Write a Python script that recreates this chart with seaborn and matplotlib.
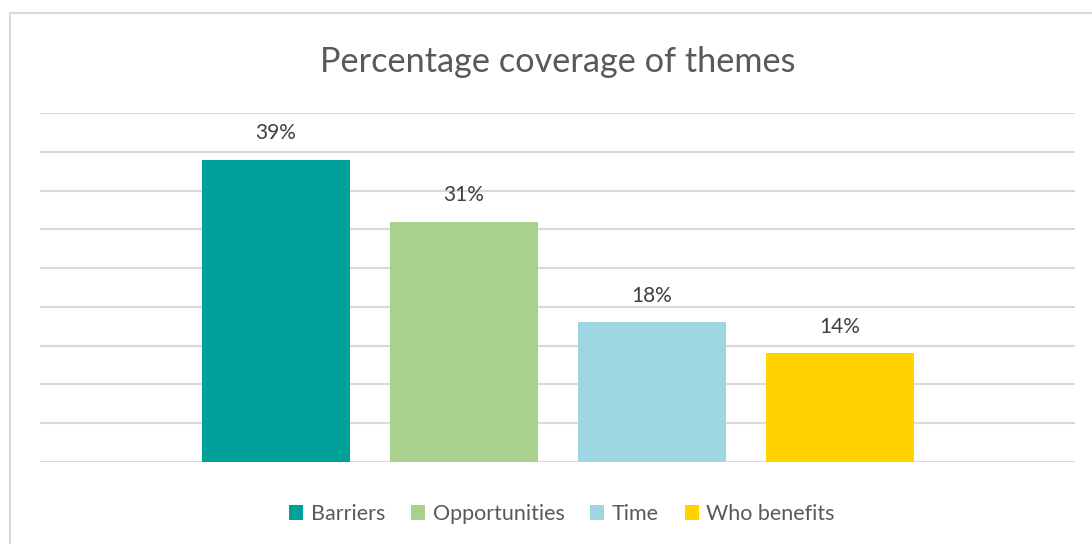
import matplotlib
matplotlib.use("Agg")
import matplotlib.pyplot as plt
from matplotlib.patches import Rectangle, Patch
import seaborn as sns
import pandas as pd

# Theme coverage shares (percent)
themes = ["Barriers", "Opportunities", "Time", "Who benefits"]
coverage = [39, 31, 18, 14]
colors = ["#00A19A", "#A9D18E", "#9DD5E0", "#FFD200"]
value_labels = ["39%", "31%", "18%", "14%"]
title = "Percentage coverage of themes"

sns.set_theme(style="white")
plt.rcParams["font.family"] = ["Lato", "DejaVu Sans"]

W, H = 1092, 544
fig = plt.figure(figsize=(W / 100, H / 100), dpi=100)

# Chart-area frame
fig.patches.append(Rectangle((10 / W, -0.1), 1.2, 1 - 13 / H + 0.1,
                             transform=fig.transFigure, fill=False,
                             edgecolor="#D9D9D9", linewidth=1.5))

ax = fig.add_axes([40 / W, (H - 462) / H, (1075 - 40) / W, (462 - 113) / H])
df = pd.DataFrame({"theme": themes, "coverage": coverage})
sns.barplot(data=df, x="theme", y="coverage", hue="theme", palette=colors,
            width=0.787, saturation=1, legend=False, ax=ax, zorder=3,
            linewidth=0, edgecolor="none")

ax.set_ylim(0, 45)
ax.set_xlim(-1.255, 4.25)
ax.set_yticks(range(0, 46, 5))
ax.yaxis.grid(True, color="#D9D9D9", linewidth=1.5, zorder=0)
ax.set_axisbelow(True)
for s in ax.spines.values():
    s.set_visible(False)
ax.tick_params(left=False, bottom=False, labelleft=False, labelbottom=False)
ax.set_xlabel("")
ax.set_ylabel("")

for i, (v, lab) in enumerate(zip(coverage, value_labels)):
    ax.annotate(lab, (i, v), xytext=(0, 12), textcoords="offset points",
                ha="center", va="bottom", fontsize=15, color="#404040")

fig.text(558 / W, 1 - 62 / H, title, ha="center", va="center",
         fontsize=24.7, color="#595959")

handles = [Patch(facecolor=c, edgecolor="none") for c in colors]
fig.legend(handles, themes, loc="center", bbox_to_anchor=(562 / W, 1 - 514 / H),
           ncol=4, frameon=False, fontsize=15.5, labelcolor="#595959",
           handlelength=0.65, handleheight=0.65, handletextpad=0.35,
           columnspacing=1.2)

fig.savefig("out.png", dpi=100)
